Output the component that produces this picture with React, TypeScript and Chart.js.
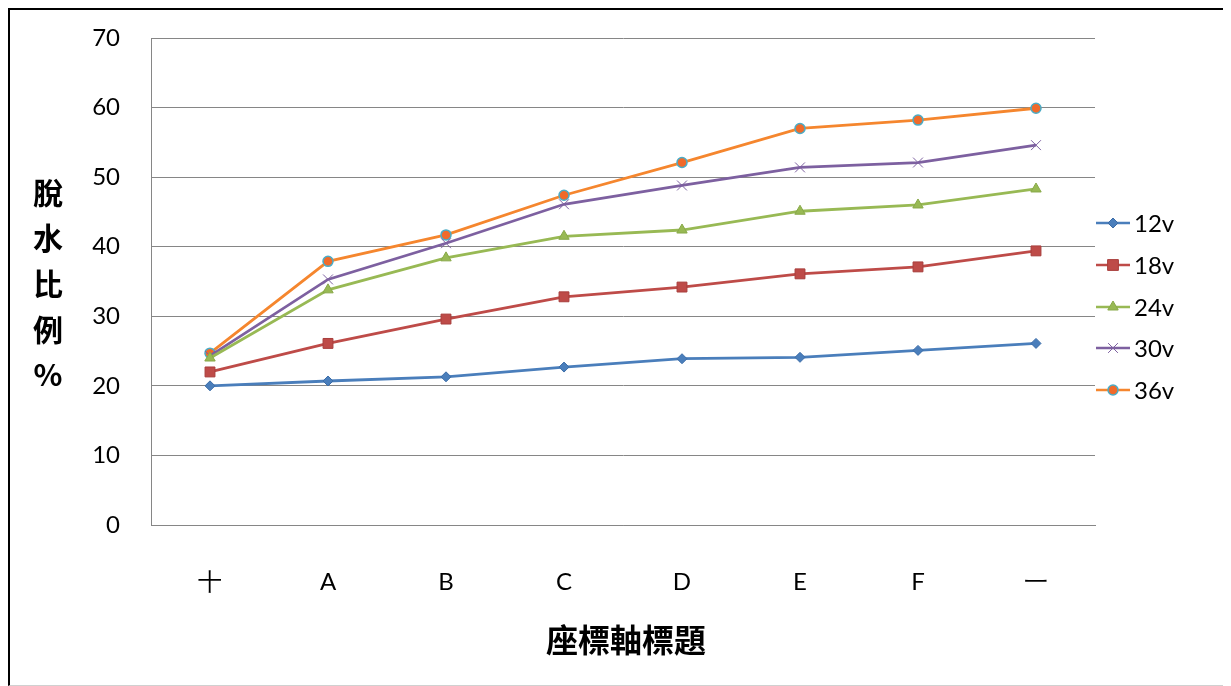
import React, { useEffect, useRef } from 'react';
import { Chart, registerables } from 'chart.js';

Chart.register(...registerables);

const categories = ['十', 'A', 'B', 'C', 'D', 'E', 'F', '一'];
const seriesNames = ['12v', '18v', '24v', '30v', '36v'];
const s12 = [20.0, 20.7, 21.3, 22.7, 23.9, 24.1, 25.1, 26.1];
const s18 = [22.0, 26.1, 29.6, 32.8, 34.2, 36.1, 37.1, 39.4];
const s24 = [24.0, 33.8, 38.4, 41.5, 42.4, 45.1, 46.0, 48.3];
const s30 = [24.3, 35.3, 40.5, 46.1, 48.8, 51.4, 52.1, 54.6];
const s36 = [24.7, 37.9, 41.7, 47.4, 52.1, 57.0, 58.2, 59.9];
const yTitleChars = ['脫', '水', '比', '例', '%'];
const xTitle = '座標軸標題';

const TICK_FONT = 'Lato, "Open Sans", sans-serif';
const CJK_FONT = '"Noto Sans CJK TC", "Noto Sans CJK SC", sans-serif';

const styles = [
  { color: '#4A7EBB', point: 'rectRot', radius: 5, fill: '#4A7EBB', border: '#3C6DA8', bw: 1 },
  { color: '#BE4B48', point: 'rect', radius: 6, fill: '#BE4B48', border: '#A83E3C', bw: 1 },
  { color: '#98B954', point: 'triangle', radius: 6, fill: '#98B954', border: '#88A948', bw: 1 },
  { color: '#7D60A0', point: 'crossRot', radius: 7, fill: '#7D60A0', border: '#7D60A0', bw: 1 },
  { color: '#F5862E', point: 'circle', radius: 5, fill: '#F06A2A', border: '#4BACC6', bw: 1.5 },
];

function drawMarker(ctx: CanvasRenderingContext2D, style: string, r: number, x: number, y: number) {
  ctx.beginPath();
  if (style === 'rectRot') {
    ctx.moveTo(x, y - r); ctx.lineTo(x + r, y); ctx.lineTo(x, y + r); ctx.lineTo(x - r, y); ctx.closePath();
    ctx.fill(); ctx.stroke();
  } else if (style === 'rect') {
    const s = r * 0.9;
    ctx.rect(x - s, y - s, 2 * s, 2 * s); ctx.fill(); ctx.stroke();
  } else if (style === 'triangle') {
    ctx.moveTo(x, y - r); ctx.lineTo(x + r * 0.87, y + r * 0.5); ctx.lineTo(x - r * 0.87, y + r * 0.5); ctx.closePath();
    ctx.fill(); ctx.stroke();
  } else if (style === 'crossRot') {
    const d = r * 0.7;
    ctx.moveTo(x - d, y - d); ctx.lineTo(x + d, y + d); ctx.moveTo(x + d, y - d); ctx.lineTo(x - d, y + d);
    ctx.stroke();
  } else {
    ctx.arc(x, y, r, 0, Math.PI * 2); ctx.fill(); ctx.stroke();
  }
}

const annotations = {
  id: 'annotations',
  afterDraw(chart: any) {
    const ctx: CanvasRenderingContext2D = chart.ctx;
    ctx.save();
    ctx.fillStyle = '#000';
    ctx.font = `bold 30px ${CJK_FONT}`;
    ctx.textAlign = 'center';
    ctx.textBaseline = 'middle';
    const ys = [183, 228, 274, 320, 365];
    yTitleChars.forEach((c, i) => ctx.fillText(c, 38, ys[i]));
    ctx.font = `bold 32px ${CJK_FONT}`;
    const area = chart.chartArea;
    ctx.fillText(xTitle, (area.left + area.right) / 2 + 3, 630);
    const legendY = [213, 255, 297, 338, 380];
    seriesNames.forEach((name, i) => {
      const st = styles[i];
      const y = legendY[i];
      ctx.strokeStyle = st.color;
      ctx.lineWidth = 2.5;
      ctx.beginPath();
      ctx.moveTo(1086, y);
      ctx.lineTo(1120, y);
      ctx.stroke();
      ctx.fillStyle = st.fill;
      ctx.strokeStyle = st.border;
      ctx.lineWidth = st.bw;
      drawMarker(ctx, st.point, st.radius, 1103, y);
      ctx.fillStyle = '#000';
      ctx.font = `24px ${TICK_FONT}`;
      ctx.textAlign = 'left';
      ctx.fillText(name, 1124, y + 1);
    });
    ctx.restore();
  },
};

export default function App() {
  const ref = useRef<HTMLCanvasElement | null>(null);
  useEffect(() => {
    if (!ref.current) return;
    const all = [s12, s18, s24, s30, s36];
    const chart = new Chart(ref.current, {
      type: 'line',
      data: {
        labels: categories,
        datasets: all.map((d, i) => ({
          label: seriesNames[i],
          data: d,
          borderColor: styles[i].color,
          borderWidth: 2.8,
          backgroundColor: styles[i].fill,
          pointBackgroundColor: styles[i].fill,
          pointBorderColor: styles[i].border,
          pointBorderWidth: styles[i].bw,
          pointStyle: styles[i].point as any,
          pointRadius: styles[i].point === 'rect' ? 7 : styles[i].radius,
          tension: 0,
          fill: false,
        })),
      },
      options: {
        animation: false,
        responsive: false,
        devicePixelRatio: 1,
        layout: { padding: { top: 28, right: 133, left: 0, bottom: 0 } },
        plugins: { legend: { display: false }, tooltip: { enabled: false } },
        scales: {
          x: {
            offset: true,
            grid: { display: false, drawTicks: false },
            border: { display: true, color: '#868686', width: 1 },
            ticks: { color: '#000', font: { size: 24, family: TICK_FONT }, padding: 43, maxRotation: 0 },
            afterFit: (s: any) => { s.height = 160; },
          },
          y: {
            min: 0,
            max: 70,
            ticks: { stepSize: 10, color: '#000', font: { size: 24, family: TICK_FONT }, padding: 31 },
            grid: { color: '#868686', lineWidth: 1, drawTicks: false },
            border: { display: true, color: '#868686', width: 1 },
            afterFit: (s: any) => { s.width = 141; s.paddingTop = 0; s.paddingBottom = 0; },
          },
        },
      },
      plugins: [annotations],
    });
    return () => chart.destroy();
  }, []);
  return (
    <div
      style={{
        width: 1218,
        height: 675,
        borderTop: '2px solid #000',
        borderLeft: '2px solid #000',
        borderRight: '1px solid #d0d0d0',
        borderBottom: '1px solid #d0d0d0',
        background: '#fff',
      }}
    >
      <canvas ref={ref} width={1218} height={675} style={{ display: 'block' }} />
    </div>
  );
}
